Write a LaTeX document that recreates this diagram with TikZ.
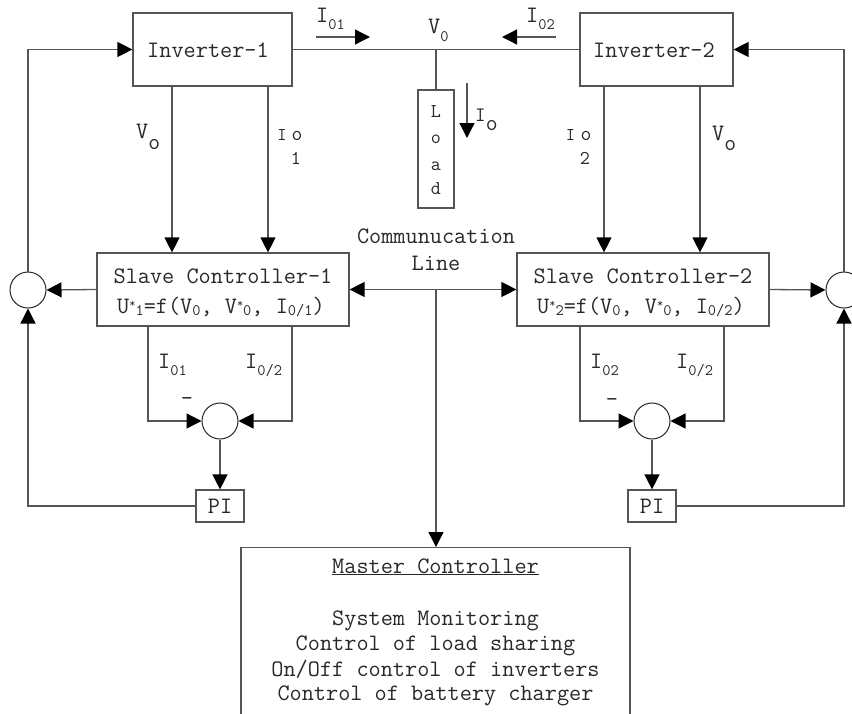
\documentclass[tikz,border=0pt]{standalone}
\usepackage{fontspec}
\usetikzlibrary{arrows.meta}
\definecolor{linec}{RGB}{85,85,85}
\definecolor{textc}{RGB}{40,40,40}
\newcommand{\lowr}[3]{\raisebox{-#1pt}{\fontsize{#2}{#2}\selectfont #3}}
\newcommand{\upr}[3]{\raisebox{#1pt}{\fontsize{#2}{#2}\selectfont #3}}
\begin{document}
\begin{tikzpicture}[x=1pt,y=-1pt,
  box/.style={draw=linec, line width=1.2pt, rectangle, inner sep=0pt},
  circ/.style={draw=black!85, line width=1pt, circle, minimum size=36pt, inner sep=0pt, fill=white},
  wire/.style={draw=linec, line width=1.3pt},
  arr/.style={wire, -{Triangle[length=15pt,width=15pt,color=black]}},
  bi/.style={wire, {Triangle[length=15pt,width=15pt,color=black]}-{Triangle[length=15pt,width=15pt,color=black]}},
  txt/.style={text=textc, inner sep=0pt, font=\ttfamily\fontsize{23.6}{27}\selectfont},
  mid/.style={text=textc, inner sep=0pt, font=\ttfamily\fontsize{19.5}{19.5}\selectfont}]
\useasboundingbox (0,0) rectangle (852,713);
\clip (0,0) rectangle (852,713);

% boxes
\node[box, minimum width=159pt, minimum height=73pt] (inv1) at (212.5,49.5) {};
\node[txt, anchor=base] (inv1t) at (208,57) {Inverter-1};
\node[box, minimum width=153pt, minimum height=73pt] (inv2) at (656.5,49.5) {};
\node[txt, anchor=base] (inv2t) at (654,57) {Inverter-2};
\node[box, minimum width=36pt, minimum height=118pt] (load) at (436,149) {};
\node[mid, anchor=base] (ll) at (436,117) {L};
\node[mid, anchor=base] (lo) at (436,143) {o};
\node[mid, anchor=base] (la) at (436,170) {a};
\node[mid, anchor=base] (ld) at (436,194) {d};

\node[box, minimum width=252pt, minimum height=73pt] (sc1) at (223,289.5) {};
\node[txt, anchor=base] (sc1a) at (223,283) {Slave Controller-1};
\node[txt, anchor=base] (sc1b) at (221,313) {U\upr{6}{12}{*}\lowr{2}{16}{1}=f(V\lowr{2}{16}{0}, V\upr{6}{12}{*}\lowr{2}{16}{0}, I\lowr{2}{16}{0/1})};
\node[box, minimum width=252pt, minimum height=73pt] (sc2) at (643,289.5) {};
\node[txt, anchor=base] (sc2a) at (643,283) {Slave Controller-2};
\node[txt, anchor=base] (sc2b) at (641,313) {U\upr{6}{12}{*}\lowr{2}{16}{2}=f(V\lowr{2}{16}{0}, V\upr{6}{12}{*}\lowr{2}{16}{0}, I\lowr{2}{16}{0/2})};

\node[box, minimum width=48pt, minimum height=32pt, txt] (pi1) at (220,506) {PI};
\node[box, minimum width=48pt, minimum height=32pt, txt] (pi2) at (652,506) {PI};

\node[box, anchor=north, minimum width=389pt, minimum height=200pt] (master) at (435.5,547) {};
\node[txt, anchor=base] (mt) at (435.5,573) {\underline{Master Controller}};
\node[txt, anchor=base] (m1) at (435.5,625) {System Monitoring};
\node[txt, anchor=base] (m2) at (435.5,650) {Control of load sharing};
\node[txt, anchor=base] (m3) at (435.5,676) {On/Off control of inverters};
\node[txt, anchor=base] (m4) at (435.5,700) {Control of battery charger};

% connectors
\draw[wire] (inv1.east) -- (inv2.west);
\coordinate (v0) at (436,49.5);
\draw[wire] (v0) -- (load.north);
\coordinate (i1a) at (316,37); \coordinate (i1b) at (370,37);
\draw[arr] (i1a) -- (i1b);
\coordinate (i2a) at (556,37); \coordinate (i2b) at (502,37);
\draw[arr] (i2a) -- (i2b);
\coordinate (ioa) at (467,83); \coordinate (iob) at (467,138);
\draw[arr] (ioa) -- (iob);

\draw[arr] ([xshift=-40.5pt]inv1.south) -- ([xshift=-51pt]sc1.north);
\draw[arr] ([xshift=55.5pt]inv1.south) -- ([xshift=45pt]sc1.north);
\draw[arr] ([xshift=-52.5pt]inv2.south) -- ([xshift=-39pt]sc2.north);
\draw[arr] ([xshift=43.5pt]inv2.south) -- ([xshift=57pt]sc2.north);

\node[circ] (c1) at (28,290) {};
\node[circ] (c2) at (844,290) {};
\node[circ] (s1) at (220,421) {};
\node[circ] (s2) at (652,421) {};

\draw[arr] (c1.north) |- (inv1.west);
\draw[arr] (c2.north) |- (inv2.east);
\draw[arr] (sc1.west) -- (c1.east);
\draw[arr] (sc2.east) -- (c2.west);
\draw[bi] (sc1.east) -- (sc2.west);
\coordinate (cm) at (436,289.5);
\draw[arr] (cm) -- (cm |- master.north);

\draw[arr] ([xshift=-75pt]sc1.south) |- (s1.west);
\draw[arr] ([xshift=69pt]sc1.south) |- (s1.east);
\draw[arr] ([xshift=-63pt]sc2.south) |- (s2.west);
\draw[arr] ([xshift=81pt]sc2.south) |- (s2.east);
\draw[arr] (s1.south) -- (pi1.north);
\draw[arr] (s2.south) -- (pi2.north);
\draw[arr] (pi1.west) -| (c1.south);
\draw[arr] (pi2.east) -| (c2.south);

% labels
\node[txt, anchor=base west] (l01) at (316,22) {I\lowr{7}{16}{01}};
\node[txt, anchor=base west] (l02) at (526,22) {I\lowr{7}{16}{02}};
\node[txt, anchor=base west] (lv0) at (428,33) {V\lowr{8}{16}{0}};
\node[txt, anchor=base west, font=\ttfamily\fontsize{20.5}{20.5}\selectfont] (lio) at (475,121) {I\lowr{9}{23}{o}};
\node[txt, anchor=base west] (lvo1) at (136,138) {V\lowr{11}{23}{o}};
\node[txt, anchor=base west] (lvo2) at (712,140) {V\lowr{10}{23}{o}};
\node[txt, anchor=base, font=\ttfamily\fontsize{18}{18}\selectfont] (ia1) at (282,140) {I};
\node[txt, anchor=base, font=\ttfamily\fontsize{21}{21}\selectfont] (ob1) at (297,140) {o};
\node[mid, anchor=base] (n1) at (296,164) {1};
\node[txt, anchor=base, font=\ttfamily\fontsize{18}{18}\selectfont] (ia2) at (570.5,140) {I};
\node[txt, anchor=base, font=\ttfamily\fontsize{21}{21}\selectfont] (ob2) at (586,140) {o};
\node[mid, anchor=base] (n2) at (585,164) {2};

\node[txt, anchor=base] (cl1) at (436,243) {Communucation};
\node[txt, anchor=base] (cl2) at (436,270) {Line};

\node[txt, anchor=base west] (b1) at (158,368) {I\lowr{7}{16}{01}};
\node[txt, anchor=base west] (b2) at (245,368) {I\lowr{7}{16}{0/2}};
\node[txt, anchor=base west] (b3) at (590,368) {I\lowr{7}{16}{02}};
\node[txt, anchor=base west] (b4) at (676,368) {I\lowr{7}{16}{0/2}};
\node[txt] (m1n) at (187,402) {-};
\node[txt] (m2n) at (612,403) {-};
\end{tikzpicture}
\end{document}
